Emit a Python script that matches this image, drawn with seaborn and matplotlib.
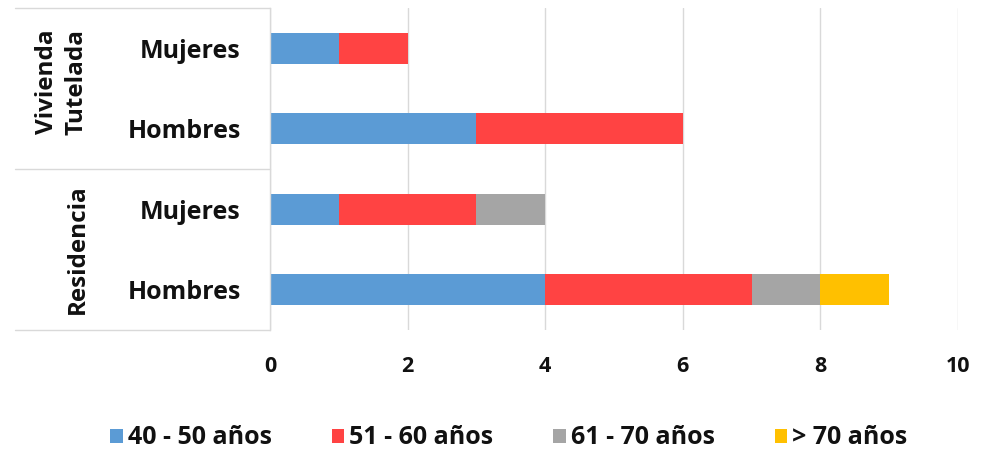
import matplotlib
matplotlib.use('Agg')
import matplotlib.pyplot as plt
from matplotlib.patches import Patch
import numpy as np
import pandas as pd
import seaborn as sns

# data (top to bottom as in the chart)
groups = ['Vivienda\nTutelada', 'Vivienda\nTutelada', 'Residencia', 'Residencia']
sexes = ['Mujeres', 'Hombres', 'Mujeres', 'Hombres']
age_bands = ['40 - 50 años', '51 - 60 años', '61 - 70 años', '> 70 años']
v_40_50 = [1, 3, 1, 4]
v_51_60 = [1, 3, 2, 3]
v_61_70 = [0, 0, 1, 1]
v_70_plus = [0, 0, 0, 1]
colors = ['#5B9BD5', '#FF4343', '#A5A5A5', '#FFC000']

sns.set_style('white')
plt.rcParams['font.family'] = ['Open Sans', 'DejaVu Sans']
plt.rcParams['font.weight'] = 'bold'
txt_col = '#111111'

df = pd.DataFrame({
    'row': [f'{g}|{s}' for g, s in zip(groups, sexes)],
    age_bands[0]: v_40_50,
    age_bands[1]: v_51_60,
    age_bands[2]: v_61_70,
    age_bands[3]: v_70_plus,
})
# cumulative sums so the stacks can be drawn back to front
cum = df[age_bands].cumsum(axis=1)

fig = plt.figure(figsize=(9.83, 4.55), dpi=100)
ax = fig.add_axes([270 / 983, 1 - 330 / 455, 688 / 983, 322 / 455])

for band, col in reversed(list(zip(age_bands, colors))):
    sns.barplot(x=cum[band], y=df['row'], orient='h', color=col,
                width=0.39, saturation=1, ax=ax, linewidth=0)

ax.set_xlim(0, 10)
ax.set_ylim(len(sexes) - 0.5, -0.5)
ax.set_xticks(range(0, 11, 2))
ax.set_xlabel('')
ax.set_ylabel('')
ax.set_yticks(range(len(sexes)))
ax.set_yticklabels(sexes)
ax.tick_params(axis='y', length=0, pad=21, labelsize=18)
ax.tick_params(axis='x', length=0, pad=19, labelsize=15.5)
for lab in ax.get_xticklabels() + ax.get_yticklabels():
    lab.set_fontweight('bold')
    lab.set_color(txt_col)

ax.grid(axis='x', color='#D9D9D9', linewidth=1)
ax.set_axisbelow(True)
for s in ['top', 'right', 'bottom']:
    ax.spines[s].set_visible(False)
ax.spines['left'].set_color('#D9D9D9')
ax.spines['left'].set_linewidth(1)

# multi-level category axis lines and group labels
trans = ax.transAxes
x0 = (15 - 270) / 688
for yy in [1.0, 0.5, 0.0]:
    ax.plot([x0, 0], [yy, yy], color='#D9D9D9', linewidth=1,
            transform=trans, clip_on=False)

ax.text((62 - 270) / 688, 0.77, 'Vivienda\nTutelada', rotation=90,
        ha='center', va='center', fontsize=17.5, fontweight='bold',
        transform=trans, linespacing=1.3, color=txt_col)
ax.text((78 - 270) / 688, 0.25, 'Residencia', rotation=90,
        ha='center', va='center', fontsize=17.5, fontweight='bold',
        transform=trans, color=txt_col)

handles = [Patch(facecolor=c, edgecolor='none', label=b)
           for b, c in zip(age_bands, colors)]
leg = fig.legend(handles=handles, loc='center', bbox_to_anchor=(509 / 983, 1 - 438 / 455),
                 ncol=4, frameon=False, fontsize=18, handlelength=0.5,
                 handleheight=0.5, handletextpad=0.2, columnspacing=2.4)
for t in leg.get_texts():
    t.set_fontweight('bold')
    t.set_color(txt_col)

fig.savefig('out.png', dpi=100)
